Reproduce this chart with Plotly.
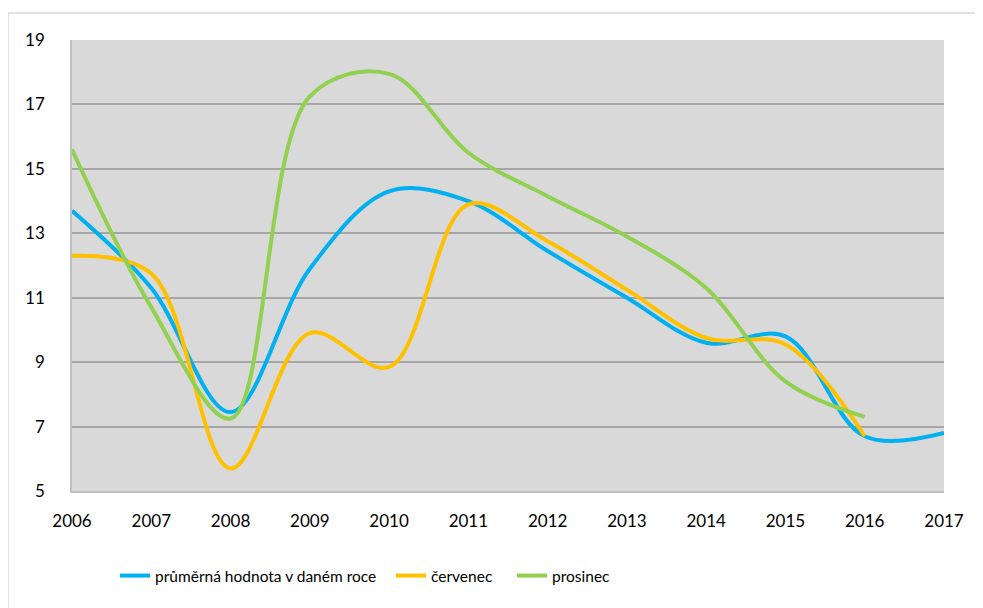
import plotly.graph_objects as go

years = [2006, 2007, 2008, 2009, 2010, 2011, 2012, 2013, 2014, 2015, 2016, 2017]
prumer = [13.7, 11.3, 7.45, 11.9, 14.3, 14.0, 12.45, 11.0, 9.6, 9.8, 6.7, 6.8]
cervenec = [12.3, 11.75, 5.7, 9.9, 8.85, 13.9, 12.75, 11.25, 9.75, 9.55, 6.7]
prosinec = [15.6, 10.7, 7.25, 17.25, 17.95, 15.5, 14.15, 12.9, 11.3, 8.4, 7.3]

names = ["průměrná hodnota v daném roce", "červenec", "prosinec"]
colors = ["#00B0F0", "#FFC000", "#92D050"]
y_ticks = [5, 7, 9, 11, 13, 15, 17, 19]

# page is offset by 8px body margin
W, H = 975, 600
L, R, T, B = 64, 39, 32, 117
pw = W - L - R
ph = H - T - B

def px_x(px):
    return (px - 8 - L) / pw

def px_y(py):
    return (H - B - (py - 8)) / ph

legend_ids = ["legend", "legend2", "legend3"]
sample_starts = [120, 396, 517]

fig = go.Figure()
for name, vals, col, lid in zip(names, [prumer, cervenec, prosinec], colors, legend_ids):
    fig.add_trace(go.Scatter(
        x=years[:len(vals)], y=vals, name=name, mode="lines", legend=lid,
        line=dict(color=col, width=4, shape="spline", smoothing=1.0),
    ))

leg_common = dict(orientation="h", xanchor="left", yanchor="middle",
                  font=dict(size=15.5), itemwidth=30, bgcolor="rgba(0,0,0,0)")
layout_legends = {}
for lid, sx in zip(legend_ids, sample_starts):
    layout_legends[lid] = dict(x=px_x(sx - 5), y=px_y(576), **leg_common)

fig.update_layout(
    width=W, height=H,
    margin=dict(l=L, r=R, t=T, b=B),
    paper_bgcolor="white",
    plot_bgcolor="#D9D9D9",
    font=dict(family="Lato, Open Sans, sans-serif", size=17, color="#000000"),
    showlegend=True,
    xaxis=dict(range=[2006, 2017], tickmode="array", tickvals=years,
               ticktext=[str(y) for y in years], showgrid=False, zeroline=False,
               showline=True, linecolor="#BFBFBF", linewidth=1.5, ticks="",
               ticklabelstandoff=14),
    yaxis=dict(range=[5, 19], tickmode="array", tickvals=y_ticks,
               ticktext=[str(v) for v in y_ticks], showgrid=True,
               gridcolor="#A6A6A6", gridwidth=1.5, zeroline=False,
               showline=True, linecolor="#BFBFBF", linewidth=1.5, ticks="",
               ticklabelstandoff=22),
    **layout_legends,
)

fig.add_shape(type="line", xref="paper", yref="paper",
              x0=px_x(8), x1=px_x(8), y0=px_y(13), y1=px_y(608),
              line=dict(color="#D9D9D9", width=1.5))
fig.add_shape(type="line", xref="paper", yref="paper",
              x0=px_x(8), x1=px_x(983), y0=px_y(13), y1=px_y(13),
              line=dict(color="#D9D9D9", width=1.5))

fig.write_html("out.html")
